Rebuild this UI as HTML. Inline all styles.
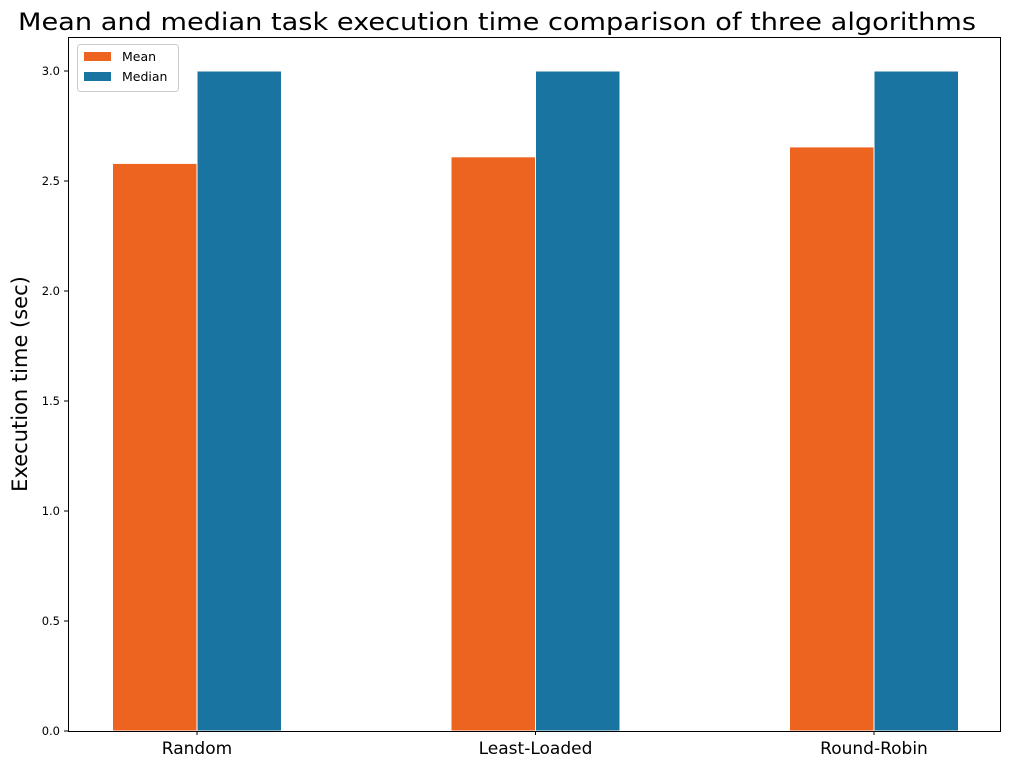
<!DOCTYPE html>
<html><head><meta charset="utf-8"><style>
body{margin:0;background:#fff;}
svg text{font-family:"DejaVu Sans","Liberation Sans",sans-serif;}
</style></head><body>
<svg id="chart" width="1010" height="768" xmlns="http://www.w3.org/2000/svg">
<text x="497" y="30" font-size="24" text-anchor="middle" textLength="958" lengthAdjust="spacingAndGlyphs">Mean and median task execution time comparison of three algorithms</text>
<text transform="translate(27,384) rotate(-90)" font-size="21" text-anchor="middle">Execution time (sec)</text>
<g id="bars"></g>
<g id="yticks"></g>
<g id="xticks"></g>
<rect x="68.5" y="37.5" width="932" height="694" fill="none" stroke="#000" stroke-width="1"/>
<g>
<rect x="77.5" y="44.5" width="101" height="47" rx="3" fill="#fff" fill-opacity="0.8" stroke="#ccc"/>
<rect x="84" y="52" width="27" height="9" fill="#EC6420"/>
<text x="122" y="61" font-size="12.5">Mean</text>
<rect x="84" y="72" width="27" height="9" fill="#1A74A1"/>
<text x="122" y="81" font-size="12.5">Median</text>
</g>
</svg>
<script>
const categories = ["Random", "Least-Loaded", "Round-Robin"];
const meanValues = [2.58, 2.61, 2.655];
const medianValues = [3.0, 3.0, 3.0];
const yTicks = [0.0, 0.5, 1.0, 1.5, 2.0, 2.5, 3.0];
const yTickLabels = ["0.0", "0.5", "1.0", "1.5", "2.0", "2.5", "3.0"];

const NS = "http://www.w3.org/2000/svg";
const y0 = 731, pxPerUnit = 220;
function yScale(v){ return y0 - v * pxPerUnit; }
function xCenter(i){ return 197 + i * 338.5; }
const barW = 84.5;
const bars = document.getElementById('bars');
function addBar(x, v, color, name){
  const r = document.createElementNS(NS, 'rect');
  r.setAttribute('x', x);
  r.setAttribute('y', yScale(v));
  r.setAttribute('width', barW);
  r.setAttribute('height', y0 - yScale(v));
  r.setAttribute('fill', color);
  r.setAttribute('stroke', '#fff');
  r.setAttribute('stroke-width', '1');
  
  
  bars.appendChild(r);
}
categories.forEach((c, i) => {
  const cx = xCenter(i);
  addBar(cx - barW, meanValues[i], '#EC6420', 'bar-mean-' + c.toLowerCase());
  addBar(cx, medianValues[i], '#1A74A1', 'bar-median-' + c.toLowerCase());
  const t = document.createElementNS(NS, 'text');
  t.setAttribute('x', cx);
  t.setAttribute('y', 754);
  t.setAttribute('font-size', '17');
  t.setAttribute('text-anchor', 'middle');
  t.textContent = c;
  
  
  document.getElementById('xticks').appendChild(t);
  const tk = document.createElementNS(NS, 'line');
  tk.setAttribute('x1', cx); tk.setAttribute('x2', cx);
  tk.setAttribute('y1', 731); tk.setAttribute('y2', 735);
  tk.setAttribute('stroke', '#000');
  
  
  document.getElementById('xticks').appendChild(tk);
});
const yt = document.getElementById('yticks');
yTicks.forEach((v, i) => {
  const y = yScale(v);
  const l = document.createElementNS(NS, 'line');
  l.setAttribute('x1', 64); l.setAttribute('x2', 68);
  l.setAttribute('y1', y); l.setAttribute('y2', y);
  l.setAttribute('stroke', '#000');
  
  
  yt.appendChild(l);
  const t = document.createElementNS(NS, 'text');
  t.setAttribute('x', 60);
  t.setAttribute('y', y + 4);
  t.setAttribute('font-size', '11.5');
  t.setAttribute('text-anchor', 'end');
  t.textContent = yTickLabels[i];
  
  
  yt.appendChild(t);
});
</script>
</body></html>
